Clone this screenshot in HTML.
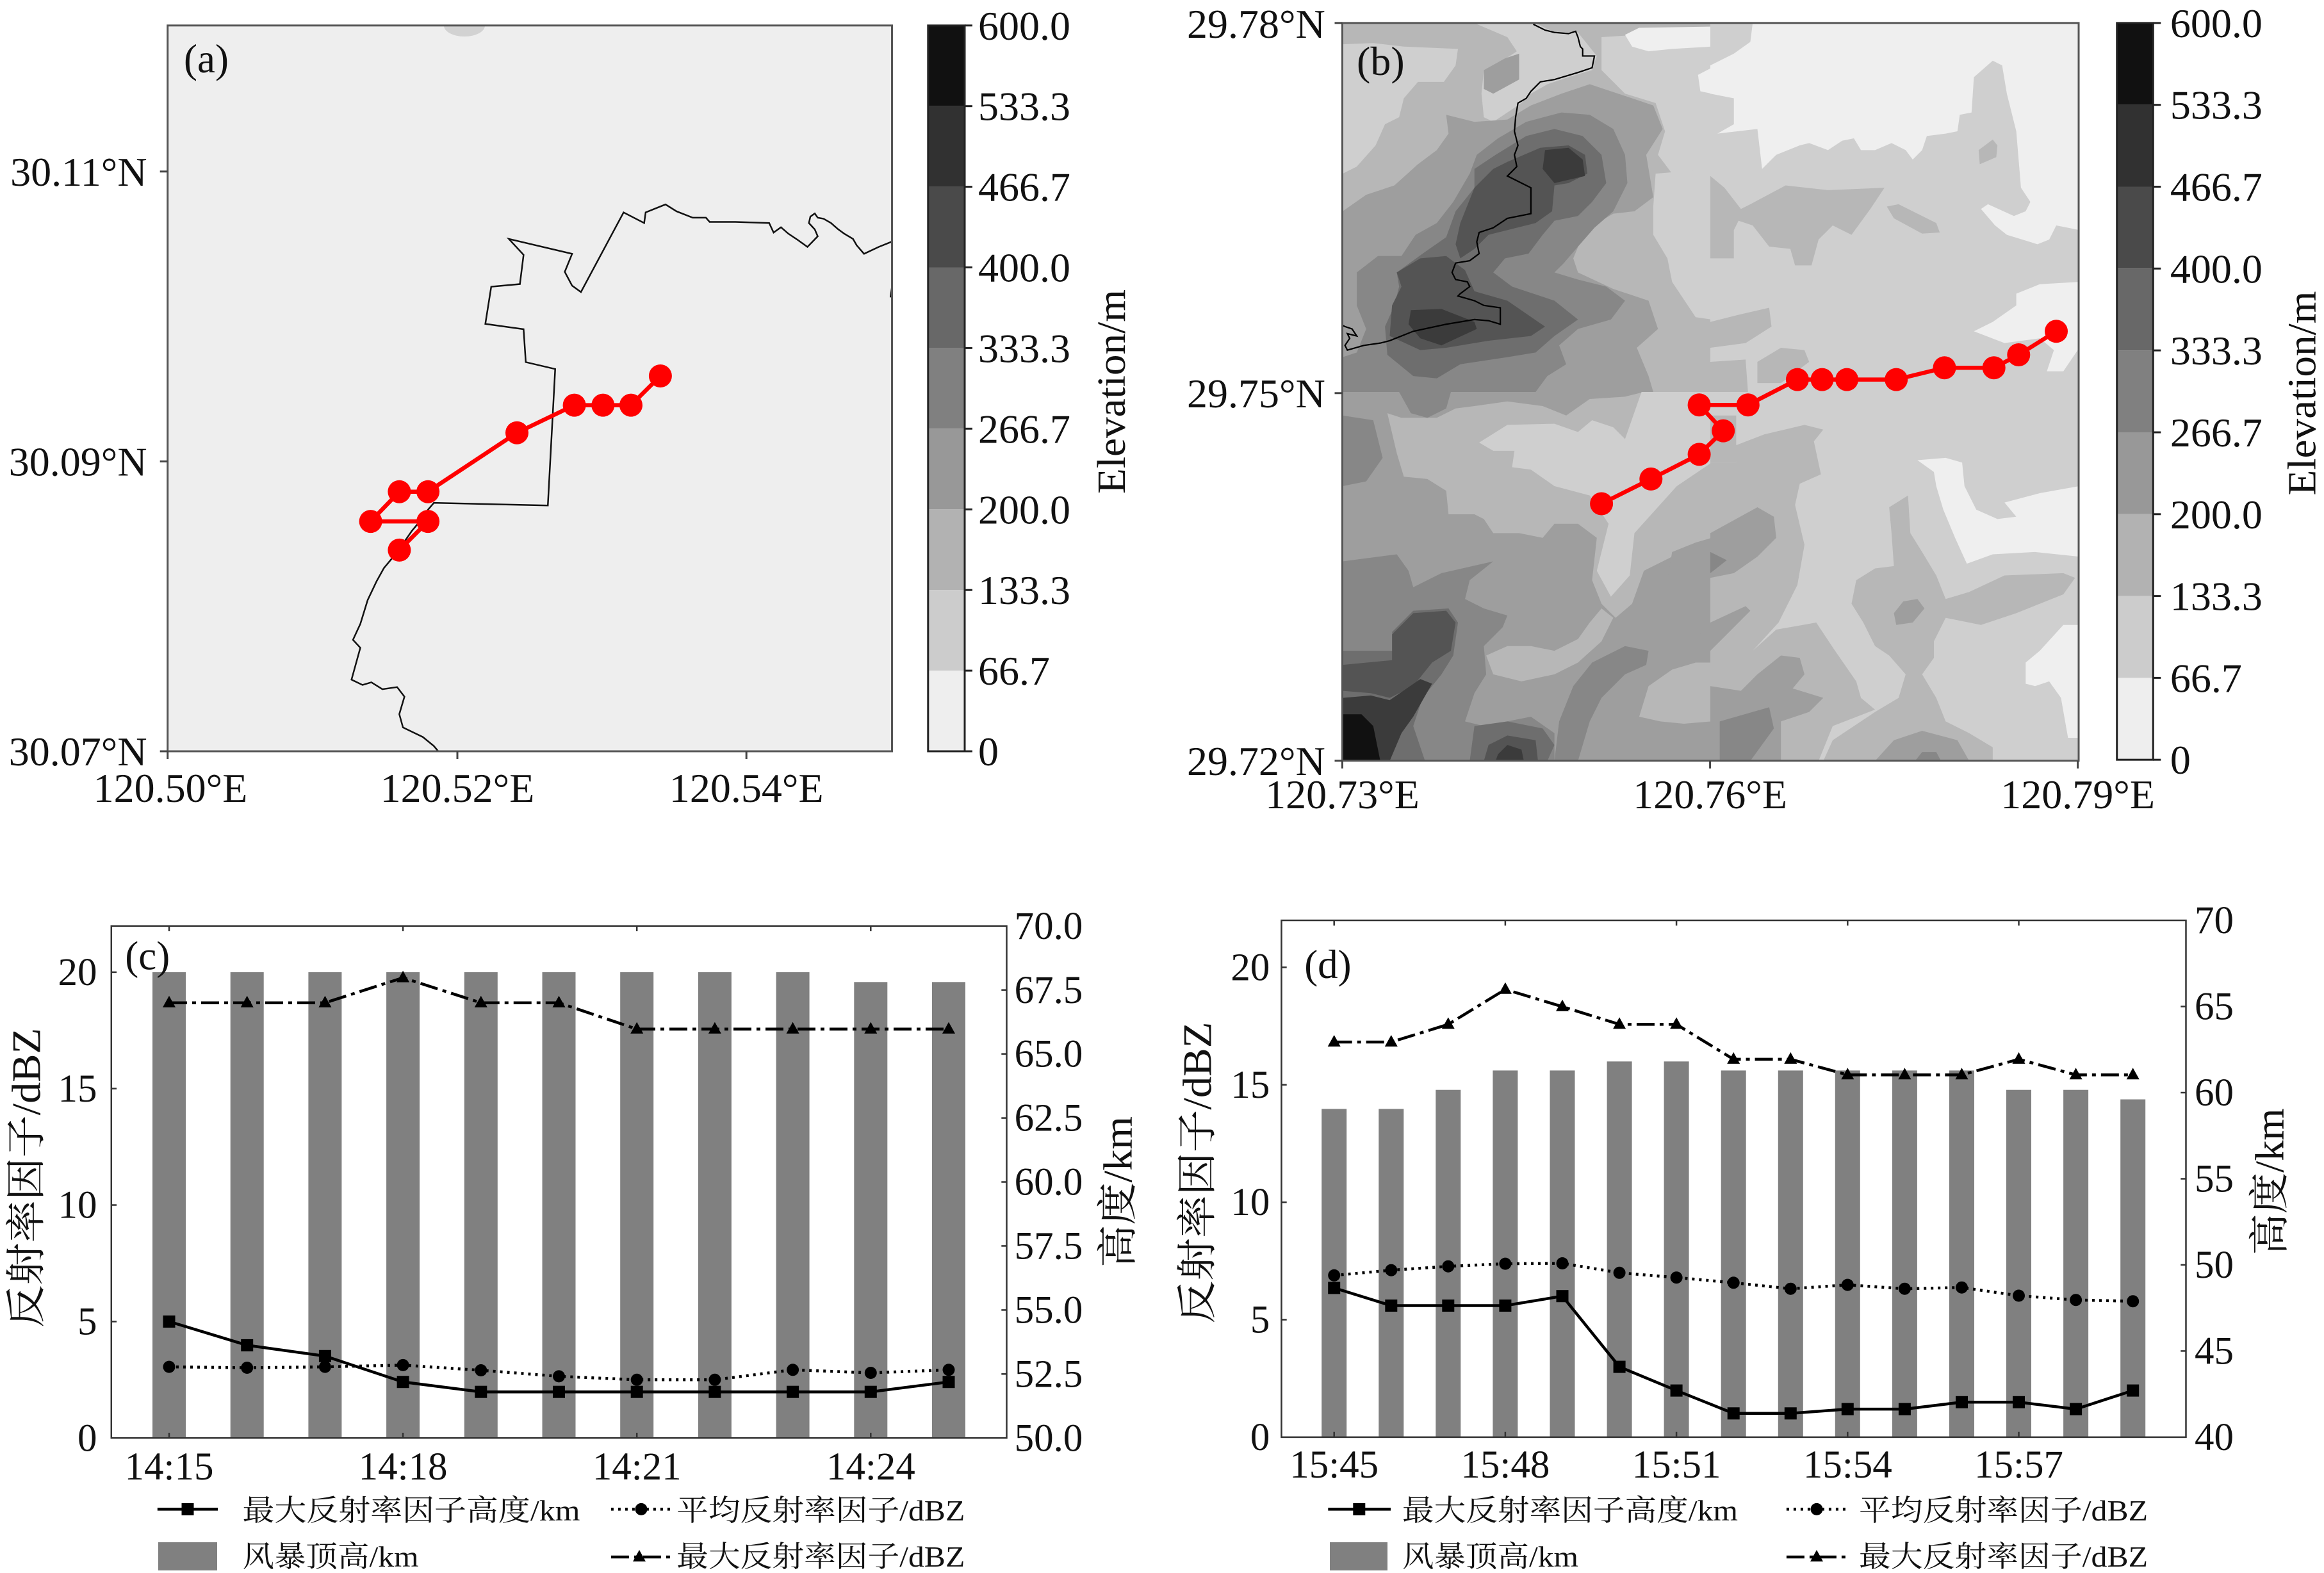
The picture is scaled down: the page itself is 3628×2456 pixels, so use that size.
<!DOCTYPE html>
<html><head><meta charset="utf-8"><style>html,body{margin:0;padding:0;background:#fff}svg{display:block}</style></head>
<body>
<svg xmlns="http://www.w3.org/2000/svg" xmlns:xlink="http://www.w3.org/1999/xlink" width="3628" height="2456" viewBox="0 0 3628 2456" font-family="'Liberation Serif','Noto Serif CJK SC',serif" fill="#111">
<defs>
<clipPath id="ca"><rect x="261.7" y="39.8" width="1130.8" height="1133.2"/></clipPath>
<clipPath id="cq"><rect x="0" y="0" width="1568" height="1568"/></clipPath>
<rect id="sq" x="-9.5" y="-9.5" width="19" height="19" fill="#000"/>
<circle id="ci" r="9.5" fill="#000"/>
<path id="tr" d="M0,-11 L10,7 L-10,7 Z" fill="#000"/>
</defs>
<rect width="3628" height="2456" fill="#fff"/>

<!-- ============ PANEL A ============ -->
<rect x="261.7" y="39.8" width="1130.8" height="1133.2" fill="#eeeeee"/>
<ellipse cx="725" cy="40" rx="32" ry="17" fill="#d2d2d2" clip-path="url(#ca)"/>
<g transform="matrix(1.14797,0,0,0.82905,0,0)" fill="none" stroke="#111">
<polyline vector-effect="non-scaling-stroke" stroke-width="2.5" points="1213,455 1195,465 1175,478 1165,462 1160,450 1148,440 1140,432 1130,420 1120,412 1112,410 1108,402 1102,408 1100,420 1108,432 1112,445 1098,465 1085,452 1072,440 1062,428 1052,438 1046,420 1000,418 965,418 960,410 942,410 920,398 905,385 878,400 876,420 848,400 790,550 778,538 768,512 778,478 692,450 712,480 707,535 668,540 660,610 712,620 715,682 755,695 745,952 590,947 582,960 575,975 560,1000 540,1040 522,1070 512,1095 500,1130 490,1175 480,1205 490,1220 478,1280 493,1290 505,1285 520,1298 540,1294 550,1312 543,1345 548,1370 575,1388 590,1405 596,1415"/>
<polyline vector-effect="non-scaling-stroke" stroke-width="2.5" points="1213,540 1211,560"/>
</g>
<g>
<polyline points="623.4,858.9 668.1,814.1 578.6,814.1 623.4,767.7 668.1,767.7 807,675.7 896.6,632.6 941.3,632.6 985,632.6 1030.9,587" fill="none" stroke="#ff0000" stroke-width="6.5"/>
<g fill="#ff0000">
<circle cx="623.4" cy="858.9" r="18"/><circle cx="668.1" cy="814.1" r="18"/><circle cx="578.6" cy="814.1" r="18"/><circle cx="623.4" cy="767.7" r="18"/><circle cx="668.1" cy="767.7" r="18"/><circle cx="807" cy="675.7" r="18"/><circle cx="896.6" cy="632.6" r="18"/><circle cx="941.3" cy="632.6" r="18"/><circle cx="985" cy="632.6" r="18"/><circle cx="1030.9" cy="587" r="18"/>
</g></g>
<rect x="261.7" y="39.8" width="1130.8" height="1133.2" fill="none" stroke="#555" stroke-width="3"/>
<g stroke="#444" stroke-width="3">
<line x1="249.7" y1="267.8" x2="261.7" y2="267.8"/><line x1="249.7" y1="720.4" x2="261.7" y2="720.4"/><line x1="249.7" y1="1173" x2="261.7" y2="1173"/>
<line x1="261.7" y1="1173" x2="261.7" y2="1185"/><line x1="714" y1="1173" x2="714" y2="1185"/><line x1="1165.2" y1="1173" x2="1165.2" y2="1185"/>
</g>
<g font-size="64">
<text x="229.6" y="289.8" text-anchor="end">30.11°N</text>
<text x="229.6" y="742.4" text-anchor="end">30.09°N</text>
<text x="229.6" y="1195" text-anchor="end">30.07°N</text>
<text x="266" y="1252" text-anchor="middle">120.50°E</text>
<text x="714" y="1252" text-anchor="middle">120.52°E</text>
<text x="1165.2" y="1252" text-anchor="middle">120.54°E</text>
</g>
<text x="287" y="113" font-size="63">(a)</text>
<!-- colorbar a -->
<g>
<rect x="1448.8" y="39.8" width="57.2" height="125.9" fill="#111111"/>
<rect x="1448.8" y="165.7" width="57.2" height="125.9" fill="#313131"/>
<rect x="1448.8" y="291.6" width="57.2" height="125.9" fill="#4a4a4a"/>
<rect x="1448.8" y="417.5" width="57.2" height="125.9" fill="#686868"/>
<rect x="1448.8" y="543.4" width="57.2" height="125.9" fill="#808080"/>
<rect x="1448.8" y="669.3" width="57.2" height="126" fill="#989898"/>
<rect x="1448.8" y="795.3" width="57.2" height="125.9" fill="#b2b2b2"/>
<rect x="1448.8" y="921.2" width="57.2" height="125.9" fill="#cccccc"/>
<rect x="1448.8" y="1047.1" width="57.2" height="125.9" fill="#eeeeee"/>
<rect x="1448.8" y="39.8" width="57.2" height="1133.2" fill="none" stroke="#222" stroke-width="3"/>
<g stroke="#222" stroke-width="3">
<line x1="1506" y1="39.8" x2="1518" y2="39.8"/><line x1="1506" y1="165.7" x2="1518" y2="165.7"/><line x1="1506" y1="291.6" x2="1518" y2="291.6"/><line x1="1506" y1="417.5" x2="1518" y2="417.5"/><line x1="1506" y1="543.4" x2="1518" y2="543.4"/><line x1="1506" y1="669.3" x2="1518" y2="669.3"/><line x1="1506" y1="795.3" x2="1518" y2="795.3"/><line x1="1506" y1="921.2" x2="1518" y2="921.2"/><line x1="1506" y1="1047.1" x2="1518" y2="1047.1"/><line x1="1506" y1="1173" x2="1518" y2="1173"/>
</g>
<g font-size="64">
<text x="1527" y="61.8">600.0</text><text x="1527" y="187.7">533.3</text><text x="1527" y="313.6">466.7</text><text x="1527" y="439.5">400.0</text><text x="1527" y="565.4">333.3</text><text x="1527" y="691.3">266.7</text><text x="1527" y="817.3">200.0</text><text x="1527" y="943.2">133.3</text><text x="1527" y="1069.1">66.7</text><text x="1527" y="1195">0</text>
</g>
<text transform="translate(1734.5,611.5) rotate(-90)" text-anchor="middle" dy="0.35em" font-size="62" textLength="319" lengthAdjust="spacingAndGlyphs">Elevation/m</text>
</g>

<!-- ============ PANEL B ============ -->
<rect x="2095.5" y="35.9" width="1149.5" height="1151.9" fill="#cfcfcf"/>
<!-- TL quadrant -->
<g transform="translate(2096 36) scale(0.367377)" clip-path="url(#cq)">
<rect width="1568" height="1568" fill="#b7b7b7"/>
<g fill="#cfcfcf">
<polygon points="0,90 130,85 260,100 490,110 480,180 430,250 320,250 260,320 240,400 180,430 140,520 60,610 0,640"/>
<polygon points="560,0 820,0 900,40 1000,40 1080,140 1060,200 960,230 870,260 800,300 760,340 700,380 640,420 600,400 590,300 600,200 680,160 740,120 700,60"/>
<polygon points="1100,60 1568,30 1568,700 1400,640 1340,560 1370,460 1330,340 1200,300 1100,200"/>
<polygon points="1330,640 1568,620 1568,1260 1500,1250 1400,1100 1380,1000 1320,900 1320,780"/>
</g>
<g fill="#efefef">
<polygon points="1200,50 1260,20 1568,15 1568,100 1400,110 1300,120 1230,100"/>
<polygon points="1510,220 1568,190 1568,300 1520,290"/>
</g>
<g fill="#9e9e9e">
<polygon points="600,200 690,150 750,130 750,240 640,300 600,280"/>
<polygon points="440,390 560,420 700,410 800,350 930,300 1050,260 1200,310 1320,350 1360,450 1290,560 1320,740 1240,800 1150,810 1030,880 980,1000 1000,1060 1150,1130 1300,1180 1340,1300 1250,1380 1300,1500 1320,1568 0,1568 0,800 100,730 220,690 320,600 400,540 450,470"/>
</g>
<polygon fill="#878787" points="60,1060 150,990 250,990 310,900 400,850 470,760 540,640 570,560 660,490 780,420 930,380 1050,390 1150,450 1200,560 1210,680 1150,800 1070,870 1000,950 940,1020 900,1060 1000,1090 1120,1120 1200,1180 1140,1260 1000,1300 920,1370 950,1450 870,1500 820,1568 0,1568 0,1420 60,1400 100,1300 60,1200"/>
<polygon fill="#6e6e6e" points="230,1060 340,980 440,910 480,800 560,700 560,620 650,560 780,480 900,450 1020,480 1100,560 1120,680 1060,760 1000,820 900,840 850,900 790,980 690,1000 640,1060 720,1120 900,1180 1000,1260 900,1330 820,1400 700,1420 500,1450 400,1510 300,1500 190,1410 180,1290 220,1200 240,1120"/>
<g fill="#545454">
<polygon points="560,700 640,620 700,590 840,530 960,520 1030,560 1040,640 960,680 900,690 890,800 820,850 700,880 620,900 560,960 500,1000 480,940 500,850"/>
<polygon points="230,1060 330,1000 440,990 520,1050 560,1140 700,1180 860,1290 800,1330 620,1350 440,1380 330,1390 200,1330 210,1200 250,1120"/>
</g>
<g fill="#3b3b3b">
<polygon points="860,540 960,530 1020,580 1030,650 900,680 850,620"/>
<polygon points="290,1220 420,1215 560,1270 570,1300 420,1370 330,1340 280,1280"/>
</g>
<polyline fill="none" stroke="#000" stroke-width="6" points="810,5 860,30 900,40 960,45 990,35 1000,60 1010,100 1020,110 1020,140 1070,140 1060,190 1000,210 900,240 840,250 800,290 780,320 745,340 735,400 730,460 745,520 730,560 740,610 700,650 780,690 800,700 800,810 700,830 640,870 580,890 570,930 580,980 540,1010 480,1020 465,1060 480,1090 530,1100 540,1120 500,1150 490,1160 560,1180 600,1200 670,1210 670,1280 620,1265 560,1260 440,1280 300,1310 200,1350 160,1360 90,1370 20,1390 10,1370 30,1340 20,1320 60,1330 40,1300 10,1290 0,1285"/>
</g>
<!-- TR quadrant -->
<g transform="translate(2670 36) scale(0.367377)" clip-path="url(#cq)">
<rect width="1568" height="1568" fill="#cfcfcf"/>
<g fill="#efefef">
<polygon points="180,0 1568,0 1568,880 1520,870 1470,860 1440,920 1390,940 1260,900 1210,860 1150,790 1180,770 1290,820 1340,800 1360,760 1320,700 1310,580 1300,460 1260,300 1240,180 1200,160 1120,230 1110,380 1060,390 1050,460 1000,470 920,480 900,540 860,580 830,540 770,510 700,540 640,540 610,490 560,500 500,540 420,510 380,520 280,560 220,620 200,450 30,470 100,430 100,320 0,300 0,180 100,130 170,80"/>
<polygon points="1300,1150 1400,1110 1568,1100 1568,1380 1500,1480 1430,1480 1460,1390 1400,1340 1250,1360 1120,1310 1200,1270 1300,1200"/>
</g>
<g fill="#b7b7b7">
<polygon points="1140,540 1200,495 1220,520 1215,570 1145,600"/>
<polygon points="0,650 60,700 130,790 170,770 320,690 500,710 740,700 680,790 600,900 520,860 460,920 430,1030 360,1030 340,960 250,950 180,860 120,840 100,880 100,1000 0,1000"/>
<polygon points="750,780 800,770 960,850 975,890 900,895 780,830"/>
<polygon points="0,1270 120,1240 250,1210 260,1290 150,1360 0,1380"/>
<polygon points="200,1440 300,1380 400,1390 420,1440 300,1530 200,1530"/>
<polygon points="0,1440 150,1430 160,1568 0,1568"/>
</g>
</g>
<!-- BL quadrant -->
<g transform="translate(2096 612) scale(0.367377)" clip-path="url(#cq)">
<rect width="1568" height="1568" fill="#9e9e9e"/>
<g fill="#b7b7b7">
<polygon points="190,90 250,110 400,110 480,70 560,60 700,40 850,60 950,100 1050,30 1200,20 1280,0 1568,0 1568,680 1400,700 1280,760 1230,900 1160,960 1100,900 1060,800 1080,620 1000,560 900,560 850,620 750,600 640,600 600,540 560,520 450,520 440,420 360,370 260,360 230,260"/>
<polygon points="610,1120 700,1080 800,1080 900,1100 1000,1050 1050,980 1100,920 1150,960 1100,1060 1000,1150 900,1200 760,1230 640,1200"/>
<polygon points="1260,1380 1300,1250 1400,1180 1500,1150 1568,1150 1568,1400 1450,1410 1350,1400"/>
</g>
<polygon fill="#cfcfcf" points="580,215 700,140 900,135 1000,170 1060,120 1150,150 1200,200 1270,0 1568,0 1568,300 1420,400 1240,600 1220,780 1140,870 1080,760 1130,560 1050,440 900,400 800,330 720,320 730,250 640,250"/>
<g fill="#878787">
<polygon points="0,100 130,120 170,280 100,380 0,400"/>
<polygon points="240,0 460,0 440,70 360,110 290,90"/>
<polygon points="0,720 230,690 280,760 300,830 420,770 640,720 540,800 520,880 600,920 700,950 680,1000 600,1080 610,1200 560,1280 520,1400 600,1420 800,1380 900,1450 900,1568 0,1568"/>
<polygon points="980,1250 1060,1150 1200,1080 1300,1100 1290,1160 1200,1200 1100,1300 1050,1400 1000,1568 900,1568 920,1400"/>
</g>
<polygon fill="#9e9e9e" points="1400,680 1500,640 1568,620 1568,1000 1480,1050 1400,960 1380,800"/>
<g fill="#6e6e6e">
<polygon points="0,1100 220,1100 210,1020 300,930 450,920 490,980 470,1120 420,1200 340,1300 300,1420 350,1568 0,1568"/>
<polygon points="560,1420 700,1400 850,1430 900,1500 870,1568 540,1568"/>
</g>
<g fill="#545454">
<polygon points="210,1030 300,940 440,930 480,980 460,1100 380,1150 300,1250 200,1300 120,1280 0,1270 0,1160 210,1140"/>
<polygon points="620,1500 700,1460 820,1480 830,1568 600,1568"/>
</g>
<g fill="#3b3b3b">
<polygon points="0,1300 120,1290 200,1310 330,1220 380,1240 300,1380 250,1450 200,1568 0,1568"/>
<polygon points="660,1540 700,1500 760,1520 770,1568 650,1568"/>
</g>
<polygon fill="#111111" points="0,1370 80,1370 130,1420 160,1568 0,1568"/>
</g>
<!-- BR quadrant -->
<g transform="translate(2670 612) scale(0.367377)" clip-path="url(#cq)">
<rect width="1568" height="1568" fill="#cfcfcf"/>
<g fill="#b7b7b7">
<polygon points="0,300 110,300 100,230 230,180 400,140 480,160 440,210 470,350 380,390 360,480 400,650 370,820 290,980 180,1100 280,1010 450,980 530,1100 620,1230 640,1300 700,1350 520,1420 460,1568 0,1568"/>
<polygon points="0,100 110,100 110,300 0,300"/>
<polygon points="760,490 840,440 850,600 900,680 960,780 1000,880 1100,850 1250,780 1500,770 1550,790 1500,860 1300,940 1150,990 1000,960 950,1060 950,1130 900,1200 960,1300 1000,1400 1100,1450 1200,1510 1200,1568 480,1568 520,1480 700,1360 800,1300 830,1200 760,1120 700,1080 650,980 600,900 620,800 700,750 780,740 770,600"/>
</g>
<g fill="#9e9e9e">
<polygon points="0,600 200,490 270,530 280,620 200,700 100,770 0,790"/>
<polygon points="0,980 150,910 170,930 60,1040 0,1100"/>
<polygon points="0,1250 130,1270 200,1200 300,1120 380,1130 400,1200 350,1260 480,1300 420,1360 300,1400 300,1568 0,1568"/>
<polygon points="780,940 820,890 880,880 910,920 860,980 790,990"/>
<polygon points="700,1568 780,1480 900,1440 1050,1480 1100,1568"/>
</g>
<g fill="#878787">
<polygon points="0,680 70,715 0,770"/>
<polygon points="40,1400 250,1340 270,1430 170,1568 40,1568"/>
<polygon points="870,1568 900,1530 960,1530 980,1568"/>
</g>
<g fill="#efefef">
<polygon points="880,290 1000,280 1070,300 1080,400 1130,500 1220,540 1300,530 1250,470 1400,430 1568,400 1568,700 1380,680 1200,690 1090,730 1040,620 990,500 960,400 950,340"/>
<polygon points="1340,1150 1400,1100 1500,990 1568,990 1568,1470 1520,1470 1490,1300 1440,1230 1380,1250 1340,1240"/>
</g>
</g>
<!-- track b -->
<polyline points="2500.1,786.5 2577.3,747.9 2652.6,709.4 2690.2,672.6 2652.6,632.2 2728.8,632.2 2805.9,592.6 2844.5,592.6 2883.1,592.6 2960.2,592.6 3035.5,574.2 3112.7,574.2 3151.3,554 3210,517.3" fill="none" stroke="#ff0000" stroke-width="6.5"/>
<g fill="#ff0000">
<circle cx="2500.1" cy="786.5" r="18"/><circle cx="2577.3" cy="747.9" r="18"/><circle cx="2652.6" cy="709.4" r="18"/><circle cx="2690.2" cy="672.6" r="18"/><circle cx="2652.6" cy="632.2" r="18"/><circle cx="2728.8" cy="632.2" r="18"/><circle cx="2805.9" cy="592.6" r="18"/><circle cx="2844.5" cy="592.6" r="18"/><circle cx="2883.1" cy="592.6" r="18"/><circle cx="2960.2" cy="592.6" r="18"/><circle cx="3035.5" cy="574.2" r="18"/><circle cx="3112.7" cy="574.2" r="18"/><circle cx="3151.3" cy="554" r="18"/><circle cx="3210" cy="517.3" r="18"/>
</g>
<rect x="2095.5" y="35.9" width="1149.5" height="1151.9" fill="none" stroke="#555" stroke-width="3"/>
<g stroke="#444" stroke-width="3">
<line x1="2083.5" y1="35.9" x2="2095.5" y2="35.9"/><line x1="2083.5" y1="613.8" x2="2095.5" y2="613.8"/><line x1="2083.5" y1="1187.8" x2="2095.5" y2="1187.8"/>
<line x1="2095.5" y1="1187.8" x2="2095.5" y2="1199.8"/><line x1="2669.6" y1="1187.8" x2="2669.6" y2="1199.8"/><line x1="3243.6" y1="1187.8" x2="3243.6" y2="1199.8"/>
</g>
<g font-size="64">
<text x="2068.8" y="59" text-anchor="end">29.78°N</text>
<text x="2068.8" y="635.8" text-anchor="end">29.75°N</text>
<text x="2068.8" y="1209.8" text-anchor="end">29.72°N</text>
<text x="2095.5" y="1262" text-anchor="middle">120.73°E</text>
<text x="2669.6" y="1262" text-anchor="middle">120.76°E</text>
<text x="3243.6" y="1262" text-anchor="middle">120.79°E</text>
</g>
<text x="2118" y="116.8" font-size="64">(b)</text>
<!-- colorbar b -->
<g>
<rect x="3304.7" y="35.9" width="56.6" height="127.8" fill="#111111"/>
<rect x="3304.7" y="163.7" width="56.6" height="127.8" fill="#313131"/>
<rect x="3304.7" y="291.5" width="56.6" height="127.8" fill="#4a4a4a"/>
<rect x="3304.7" y="419.3" width="56.6" height="127.8" fill="#686868"/>
<rect x="3304.7" y="547.1" width="56.6" height="127.9" fill="#808080"/>
<rect x="3304.7" y="675" width="56.6" height="127.8" fill="#989898"/>
<rect x="3304.7" y="802.8" width="56.6" height="127.8" fill="#b2b2b2"/>
<rect x="3304.7" y="930.6" width="56.6" height="127.8" fill="#cccccc"/>
<rect x="3304.7" y="1058.4" width="56.6" height="127.8" fill="#eeeeee"/>
<rect x="3304.7" y="35.9" width="56.6" height="1150.3" fill="none" stroke="#222" stroke-width="3"/>
<g stroke="#222" stroke-width="3">
<line x1="3361.3" y1="35.9" x2="3373.3" y2="35.9"/><line x1="3361.3" y1="163.7" x2="3373.3" y2="163.7"/><line x1="3361.3" y1="291.5" x2="3373.3" y2="291.5"/><line x1="3361.3" y1="419.3" x2="3373.3" y2="419.3"/><line x1="3361.3" y1="547.1" x2="3373.3" y2="547.1"/><line x1="3361.3" y1="675" x2="3373.3" y2="675"/><line x1="3361.3" y1="802.8" x2="3373.3" y2="802.8"/><line x1="3361.3" y1="930.6" x2="3373.3" y2="930.6"/><line x1="3361.3" y1="1058.4" x2="3373.3" y2="1058.4"/><line x1="3361.3" y1="1186.2" x2="3373.3" y2="1186.2"/>
</g>
<g font-size="64">
<text x="3387.9" y="57.9">600.0</text><text x="3387.9" y="185.7">533.3</text><text x="3387.9" y="313.5">466.7</text><text x="3387.9" y="441.3">400.0</text><text x="3387.9" y="569.1">333.3</text><text x="3387.9" y="697">266.7</text><text x="3387.9" y="824.8">200.0</text><text x="3387.9" y="952.6">133.3</text><text x="3387.9" y="1080.4">66.7</text><text x="3387.9" y="1208.2">0</text>
</g>
<text transform="translate(3593,614) rotate(-90)" text-anchor="middle" dy="0.35em" font-size="62" textLength="319" lengthAdjust="spacingAndGlyphs">Elevation/m</text>
</g>

<!-- ============ PANEL C ============ -->
<g fill="#808080">
<rect x="238" y="1517.9" width="52" height="727.3"/>
<rect x="359.7" y="1517.9" width="52" height="727.3"/>
<rect x="481.4" y="1517.9" width="52" height="727.3"/>
<rect x="603.1" y="1517.9" width="52" height="727.3"/>
<rect x="724.8" y="1517.9" width="52" height="727.3"/>
<rect x="846.5" y="1517.9" width="52" height="727.3"/>
<rect x="968.2" y="1517.9" width="52" height="727.3"/>
<rect x="1089.9" y="1517.9" width="52" height="727.3"/>
<rect x="1211.6" y="1517.9" width="52" height="727.3"/>
<rect x="1333.3" y="1533.3" width="52" height="711.9"/>
<rect x="1455" y="1533.3" width="52" height="711.9"/>
</g>
<polyline fill="none" stroke="#000" stroke-width="4.5" points="264,2063.4 385.7,2100.4 507.4,2117.3 629.1,2157.7 750.8,2173.2 872.5,2173.2 994.2,2173.2 1115.9,2173.2 1237.6,2173.2 1359.3,2173.2 1481,2157.7"/>
<polyline fill="none" stroke="#000" stroke-width="4.5" stroke-dasharray="4 7" points="264,2134.1 385.7,2135.5 507.4,2134.1 629.1,2131.4 750.8,2139.5 872.5,2148.9 994.2,2154.3 1115.9,2154.3 1237.6,2138.8 1359.3,2143.5 1481,2138.8"/>
<polyline fill="none" stroke="#000" stroke-width="4.5" stroke-dasharray="28 8 6 8" points="264,1565.7 385.7,1565.7 507.4,1565.7 629.1,1526.6 750.8,1565.7 872.5,1565.7 994.2,1606.8 1115.9,1606.8 1237.6,1606.8 1359.3,1606.8 1481,1606.8"/>
<g>
<use xlink:href="#sq" x="264" y="2063.4"/><use xlink:href="#sq" x="385.7" y="2100.4"/><use xlink:href="#sq" x="507.4" y="2117.3"/><use xlink:href="#sq" x="629.1" y="2157.7"/><use xlink:href="#sq" x="750.8" y="2173.2"/><use xlink:href="#sq" x="872.5" y="2173.2"/><use xlink:href="#sq" x="994.2" y="2173.2"/><use xlink:href="#sq" x="1115.9" y="2173.2"/><use xlink:href="#sq" x="1237.6" y="2173.2"/><use xlink:href="#sq" x="1359.3" y="2173.2"/><use xlink:href="#sq" x="1481" y="2157.7"/>
<use xlink:href="#ci" x="264" y="2134.1"/><use xlink:href="#ci" x="385.7" y="2135.5"/><use xlink:href="#ci" x="507.4" y="2134.1"/><use xlink:href="#ci" x="629.1" y="2131.4"/><use xlink:href="#ci" x="750.8" y="2139.5"/><use xlink:href="#ci" x="872.5" y="2148.9"/><use xlink:href="#ci" x="994.2" y="2154.3"/><use xlink:href="#ci" x="1115.9" y="2154.3"/><use xlink:href="#ci" x="1237.6" y="2138.8"/><use xlink:href="#ci" x="1359.3" y="2143.5"/><use xlink:href="#ci" x="1481" y="2138.8"/>
<use xlink:href="#tr" x="264" y="1565.7"/><use xlink:href="#tr" x="385.7" y="1565.7"/><use xlink:href="#tr" x="507.4" y="1565.7"/><use xlink:href="#tr" x="629.1" y="1526.6"/><use xlink:href="#tr" x="750.8" y="1565.7"/><use xlink:href="#tr" x="872.5" y="1565.7"/><use xlink:href="#tr" x="994.2" y="1606.8"/><use xlink:href="#tr" x="1115.9" y="1606.8"/><use xlink:href="#tr" x="1237.6" y="1606.8"/><use xlink:href="#tr" x="1359.3" y="1606.8"/><use xlink:href="#tr" x="1481" y="1606.8"/>
</g>
<rect x="173.8" y="1445.8" width="1397.7" height="799.4" fill="none" stroke="#333" stroke-width="2.5"/>
<g stroke="#333" stroke-width="2.5">
<line x1="264" y1="2245.2" x2="264" y2="2237"/><line x1="629.1" y1="2245.2" x2="629.1" y2="2237"/><line x1="994.2" y1="2245.2" x2="994.2" y2="2237"/><line x1="1359.3" y1="2245.2" x2="1359.3" y2="2237"/>
<line x1="264" y1="1445.8" x2="264" y2="1454"/><line x1="629.1" y1="1445.8" x2="629.1" y2="1454"/><line x1="994.2" y1="1445.8" x2="994.2" y2="1454"/><line x1="1359.3" y1="1445.8" x2="1359.3" y2="1454"/>
<line x1="173.8" y1="1517.9" x2="182" y2="1517.9"/><line x1="173.8" y1="1699.7" x2="182" y2="1699.7"/><line x1="173.8" y1="1881.5" x2="182" y2="1881.5"/><line x1="173.8" y1="2063.4" x2="182" y2="2063.4"/>
<line x1="1571.5" y1="1545.7" x2="1563.3" y2="1545.7"/><line x1="1571.5" y1="1645.6" x2="1563.3" y2="1645.6"/><line x1="1571.5" y1="1745.6" x2="1563.3" y2="1745.6"/><line x1="1571.5" y1="1845.5" x2="1563.3" y2="1845.5"/><line x1="1571.5" y1="1945.4" x2="1563.3" y2="1945.4"/><line x1="1571.5" y1="2045.4" x2="1563.3" y2="2045.4"/><line x1="1571.5" y1="2145.3" x2="1563.3" y2="2145.3"/>
</g>
<g font-size="61">
<text x="151.5" y="1538" text-anchor="end">20</text>
<text x="151.5" y="1719.8" text-anchor="end">15</text>
<text x="151.5" y="1901.6" text-anchor="end">10</text>
<text x="151.5" y="2083.5" text-anchor="end">5</text>
<text x="151.5" y="2265.3" text-anchor="end">0</text>
<text x="1583.6" y="1465.9">70.0</text>
<text x="1583.6" y="1565.8">67.5</text>
<text x="1583.6" y="1665.7">65.0</text>
<text x="1583.6" y="1765.7">62.5</text>
<text x="1583.6" y="1865.6">60.0</text>
<text x="1583.6" y="1965.5">57.5</text>
<text x="1583.6" y="2065.5">55.0</text>
<text x="1583.6" y="2165.4">52.5</text>
<text x="1583.6" y="2265.3">50.0</text>
<text x="264" y="2310" text-anchor="middle">14:15</text>
<text x="629.1" y="2310" text-anchor="middle">14:18</text>
<text x="994.2" y="2310" text-anchor="middle">14:21</text>
<text x="1359.3" y="2310" text-anchor="middle">14:24</text>
</g>
<text x="195.3" y="1513.5" font-size="63">(c)</text>
<text transform="translate(40,1839) rotate(-90)" text-anchor="middle" dy="0.36em" font-size="63" textLength="468" lengthAdjust="spacingAndGlyphs">反射率因子/dBZ</text>
<text transform="translate(1744,1861) rotate(-90)" text-anchor="middle" dy="0.36em" font-size="63" textLength="236" lengthAdjust="spacingAndGlyphs">高度/km</text>
<!-- legend c -->
<line x1="245.8" y1="2356.4" x2="340.1" y2="2356.4" stroke="#000" stroke-width="4.5"/>
<use xlink:href="#sq" x="293" y="2356.4"/>
<text x="378.5" y="2374" font-size="46" textLength="527" lengthAdjust="spacingAndGlyphs">最大反射率因子高度/km</text>
<rect x="247" y="2408" width="92" height="44" fill="#808080"/>
<text x="378.5" y="2446" font-size="46" textLength="275" lengthAdjust="spacingAndGlyphs">风暴顶高/km</text>
<line x1="953.9" y1="2356.4" x2="1051.5" y2="2356.4" stroke="#000" stroke-width="4.5" stroke-dasharray="4 7"/>
<use xlink:href="#ci" x="1001" y="2356.4"/>
<text x="1056.3" y="2374" font-size="46" textLength="450" lengthAdjust="spacingAndGlyphs">平均反射率因子/dBZ</text>
<line x1="953.9" y1="2431" x2="1051.5" y2="2431" stroke="#000" stroke-width="4.5" stroke-dasharray="28 8 6 8"/>
<use xlink:href="#tr" x="998" y="2431"/>
<text x="1056.3" y="2446" font-size="46" textLength="450" lengthAdjust="spacingAndGlyphs">最大反射率因子/dBZ</text>

<!-- ============ PANEL D ============ -->
<g fill="#808080">
<rect x="2063.2" y="1731.4" width="39" height="512.5"/>
<rect x="2152.3" y="1731.4" width="39" height="512.5"/>
<rect x="2241.3" y="1701.7" width="39" height="542.2"/>
<rect x="2330.4" y="1671.4" width="39" height="572.5"/>
<rect x="2419.5" y="1671.4" width="39" height="572.5"/>
<rect x="2508.6" y="1657.3" width="39" height="586.6"/>
<rect x="2597.6" y="1657.3" width="39" height="586.6"/>
<rect x="2686.7" y="1671.4" width="39" height="572.5"/>
<rect x="2775.8" y="1671.4" width="39" height="572.5"/>
<rect x="2864.8" y="1671.4" width="39" height="572.5"/>
<rect x="2953.9" y="1671.4" width="39" height="572.5"/>
<rect x="3043" y="1671.4" width="39" height="572.5"/>
<rect x="3132" y="1701.7" width="39" height="542.2"/>
<rect x="3221.1" y="1701.7" width="39" height="542.2"/>
<rect x="3310.2" y="1716.5" width="39" height="527.4"/>
</g>
<polyline fill="none" stroke="#000" stroke-width="4.5" points="2082.7,2010.9 2171.8,2038.5 2260.8,2038.5 2349.9,2038.5 2439,2023.7 2528.1,2134.1 2617.1,2171.1 2706.2,2206.8 2795.3,2206.8 2884.3,2200.1 2973.4,2200.1 3062.5,2189.3 3151.5,2189.3 3240.6,2200.1 3329.7,2171.1"/>
<polyline fill="none" stroke="#000" stroke-width="4.5" stroke-dasharray="4 7" points="2082.7,1991.3 2171.8,1983.2 2260.8,1977.2 2349.9,1973.1 2439,1972.5 2528.1,1987.3 2617.1,1994.7 2706.2,2002.8 2795.3,2012.2 2884.3,2006.1 2973.4,2012.2 3062.5,2010.2 3151.5,2023 3240.6,2029.7 3329.7,2031.7"/>
<polyline fill="none" stroke="#000" stroke-width="4.5" stroke-dasharray="28 8 6 8" points="2082.7,1627 2171.8,1627 2260.8,1599.4 2349.9,1544.8 2439,1571.7 2528.1,1599.4 2617.1,1599.4 2706.2,1653.9 2795.3,1653.9 2884.3,1678.2 2973.4,1678.2 3062.5,1678.2 3151.5,1653.9 3240.6,1678.2 3329.7,1678.2"/>
<g>
<use xlink:href="#sq" x="2082.7" y="2010.9"/><use xlink:href="#sq" x="2171.8" y="2038.5"/><use xlink:href="#sq" x="2260.8" y="2038.5"/><use xlink:href="#sq" x="2349.9" y="2038.5"/><use xlink:href="#sq" x="2439" y="2023.7"/><use xlink:href="#sq" x="2528.1" y="2134.1"/><use xlink:href="#sq" x="2617.1" y="2171.1"/><use xlink:href="#sq" x="2706.2" y="2206.8"/><use xlink:href="#sq" x="2795.3" y="2206.8"/><use xlink:href="#sq" x="2884.3" y="2200.1"/><use xlink:href="#sq" x="2973.4" y="2200.1"/><use xlink:href="#sq" x="3062.5" y="2189.3"/><use xlink:href="#sq" x="3151.5" y="2189.3"/><use xlink:href="#sq" x="3240.6" y="2200.1"/><use xlink:href="#sq" x="3329.7" y="2171.1"/>
<use xlink:href="#ci" x="2082.7" y="1991.3"/><use xlink:href="#ci" x="2171.8" y="1983.2"/><use xlink:href="#ci" x="2260.8" y="1977.2"/><use xlink:href="#ci" x="2349.9" y="1973.1"/><use xlink:href="#ci" x="2439" y="1972.5"/><use xlink:href="#ci" x="2528.1" y="1987.3"/><use xlink:href="#ci" x="2617.1" y="1994.7"/><use xlink:href="#ci" x="2706.2" y="2002.8"/><use xlink:href="#ci" x="2795.3" y="2012.2"/><use xlink:href="#ci" x="2884.3" y="2006.1"/><use xlink:href="#ci" x="2973.4" y="2012.2"/><use xlink:href="#ci" x="3062.5" y="2010.2"/><use xlink:href="#ci" x="3151.5" y="2023"/><use xlink:href="#ci" x="3240.6" y="2029.7"/><use xlink:href="#ci" x="3329.7" y="2031.7"/>
<use xlink:href="#tr" x="2082.7" y="1627"/><use xlink:href="#tr" x="2171.8" y="1627"/><use xlink:href="#tr" x="2260.8" y="1599.4"/><use xlink:href="#tr" x="2349.9" y="1544.8"/><use xlink:href="#tr" x="2439" y="1571.7"/><use xlink:href="#tr" x="2528.1" y="1599.4"/><use xlink:href="#tr" x="2617.1" y="1599.4"/><use xlink:href="#tr" x="2706.2" y="1653.9"/><use xlink:href="#tr" x="2795.3" y="1653.9"/><use xlink:href="#tr" x="2884.3" y="1678.2"/><use xlink:href="#tr" x="2973.4" y="1678.2"/><use xlink:href="#tr" x="3062.5" y="1678.2"/><use xlink:href="#tr" x="3151.5" y="1653.9"/><use xlink:href="#tr" x="3240.6" y="1678.2"/><use xlink:href="#tr" x="3329.7" y="1678.2"/>
</g>
<rect x="2000.5" y="1437" width="1412" height="806.9" fill="none" stroke="#333" stroke-width="2.5"/>
<g stroke="#333" stroke-width="2.5">
<line x1="2082.7" y1="2243.9" x2="2082.7" y2="2235.7"/><line x1="2349.9" y1="2243.9" x2="2349.9" y2="2235.7"/><line x1="2617.1" y1="2243.9" x2="2617.1" y2="2235.7"/><line x1="2884.3" y1="2243.9" x2="2884.3" y2="2235.7"/><line x1="3151.5" y1="2243.9" x2="3151.5" y2="2235.7"/>
<line x1="2082.7" y1="1437" x2="2082.7" y2="1445.2"/><line x1="2349.9" y1="1437" x2="2349.9" y2="1445.2"/><line x1="2617.1" y1="1437" x2="2617.1" y2="1445.2"/><line x1="2884.3" y1="1437" x2="2884.3" y2="1445.2"/><line x1="3151.5" y1="1437" x2="3151.5" y2="1445.2"/>
<line x1="2000.5" y1="1510.3" x2="2008.7" y2="1510.3"/><line x1="2000.5" y1="1693.7" x2="2008.7" y2="1693.7"/><line x1="2000.5" y1="1877.1" x2="2008.7" y2="1877.1"/><line x1="2000.5" y1="2060.5" x2="2008.7" y2="2060.5"/>
<line x1="3412.5" y1="1571.5" x2="3404.3" y2="1571.5"/><line x1="3412.5" y1="1706" x2="3404.3" y2="1706"/><line x1="3412.5" y1="1840.5" x2="3404.3" y2="1840.5"/><line x1="3412.5" y1="1974.9" x2="3404.3" y2="1974.9"/><line x1="3412.5" y1="2109.4" x2="3404.3" y2="2109.4"/>
</g>
<g font-size="61">
<text x="1982.4" y="1530.4" text-anchor="end">20</text>
<text x="1982.4" y="1713.8" text-anchor="end">15</text>
<text x="1982.4" y="1897.2" text-anchor="end">10</text>
<text x="1982.4" y="2080.6" text-anchor="end">5</text>
<text x="1982.4" y="2264" text-anchor="end">0</text>
<text x="3426" y="1457.1">70</text>
<text x="3426" y="1591.6">65</text>
<text x="3426" y="1726.1">60</text>
<text x="3426" y="1860.6">55</text>
<text x="3426" y="1995">50</text>
<text x="3426" y="2129.5">45</text>
<text x="3426" y="2264">40</text>
<text x="2082.7" y="2307" text-anchor="middle">15:45</text>
<text x="2349.9" y="2307" text-anchor="middle">15:48</text>
<text x="2617.1" y="2307" text-anchor="middle">15:51</text>
<text x="2884.3" y="2307" text-anchor="middle">15:54</text>
<text x="3151.5" y="2307" text-anchor="middle">15:57</text>
</g>
<text x="2036.2" y="1527" font-size="63">(d)</text>
<text transform="translate(1868,1831) rotate(-90)" text-anchor="middle" dy="0.36em" font-size="63" textLength="471" lengthAdjust="spacingAndGlyphs">反射率因子/dBZ</text>
<text transform="translate(3542,1845) rotate(-90)" text-anchor="middle" dy="0.36em" font-size="63" textLength="229" lengthAdjust="spacingAndGlyphs">高度/km</text>
<!-- legend d -->
<line x1="2073.3" y1="2356.4" x2="2171" y2="2356.4" stroke="#000" stroke-width="4.5"/>
<use xlink:href="#sq" x="2121.8" y="2356.4"/>
<text x="2189" y="2374" font-size="46" textLength="524" lengthAdjust="spacingAndGlyphs">最大反射率因子高度/km</text>
<rect x="2076" y="2408" width="90" height="44" fill="#808080"/>
<text x="2189" y="2446" font-size="46" textLength="275" lengthAdjust="spacingAndGlyphs">风暴顶高/km</text>
<line x1="2788.9" y1="2356.4" x2="2881.9" y2="2356.4" stroke="#000" stroke-width="4.5" stroke-dasharray="4 7"/>
<use xlink:href="#ci" x="2836" y="2356.4"/>
<text x="2902" y="2374" font-size="46" textLength="451" lengthAdjust="spacingAndGlyphs">平均反射率因子/dBZ</text>
<line x1="2788.9" y1="2431" x2="2881.9" y2="2431" stroke="#000" stroke-width="4.5" stroke-dasharray="28 8 6 8"/>
<use xlink:href="#tr" x="2836" y="2431"/>
<text x="2902" y="2446" font-size="46" textLength="451" lengthAdjust="spacingAndGlyphs">最大反射率因子/dBZ</text>
</svg>
</body></html>
